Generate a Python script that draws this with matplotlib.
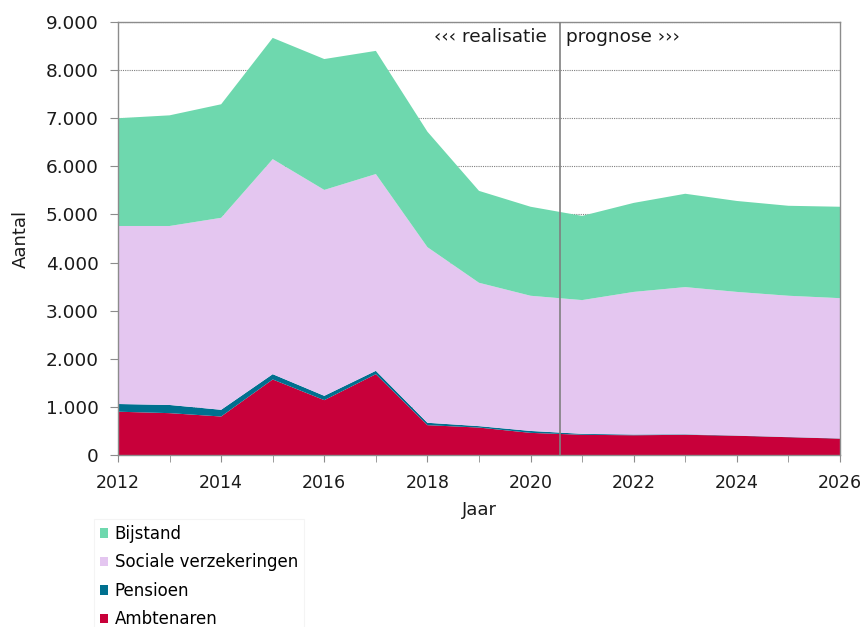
import matplotlib
matplotlib.use("Agg")
import matplotlib.pyplot as plt
from matplotlib.patches import Patch
from matplotlib.ticker import FuncFormatter, MultipleLocator

years = list(range(2012, 2027))
ambtenaren = [900, 870, 800, 1570, 1140, 1680, 620, 570, 460, 420, 410, 420, 400, 370, 340]
pensioen = [160, 170, 140, 110, 90, 70, 50, 30, 40, 20, 15, 10, 5, 5, 5]
sociale_verzekeringen = [3700, 3720, 3990, 4470, 4280, 4090, 3650, 2980, 2810, 2780, 2965, 3060, 2985, 2935, 2915]
bijstand = [2240, 2300, 2360, 2520, 2720, 2560, 2400, 1910, 1850, 1750, 1850, 1940, 1890, 1870, 1900]

series_names = ["Ambtenaren", "Pensioen", "Sociale verzekeringen", "Bijstand"]
colors = ["#C8003A", "#00708F", "#E4C6F0", "#6ED8AE"]
split_year = 2020.57

plt.rcParams["font.family"] = ["DejaVu Sans"]
plt.rcParams["font.size"] = 12

fig = plt.figure(figsize=(8.67, 6.27), dpi=100)
ax = fig.add_axes([118 / 867, 1 - 455 / 627, (840 - 118) / 867, (455 - 22) / 627])

ax.stackplot(years, ambtenaren, pensioen, sociale_verzekeringen, bijstand,
             colors=colors, linewidth=0, zorder=2)

ax.set_xlim(2012, 2026)
ax.set_ylim(0, 9000)
ax.xaxis.set_major_locator(MultipleLocator(2))
ax.xaxis.set_minor_locator(MultipleLocator(1))
ax.yaxis.set_major_locator(MultipleLocator(1000))
ax.yaxis.set_major_formatter(FuncFormatter(lambda v, p: f"{int(v):,}".replace(",", ".")))

ax.grid(axis="y", linestyle=(0, (1, 1)), color="#808080", linewidth=0.8, zorder=1)
ax.set_axisbelow(True)
for s in ax.spines.values():
    s.set_color("#8c8c8c")
    s.set_linewidth(1.0)
ax.tick_params(axis="both", which="both", direction="out", color="#8c8c8c", labelcolor="#1a1a1a")
ax.tick_params(axis="x", which="both", length=5, labelsize=12.5, pad=9)
ax.tick_params(axis="y", which="major", length=6, labelsize=13.3, pad=8)

ax.axvline(split_year, color="#808080", linewidth=1.2, zorder=3)
ax.text(split_year - 0.26, 8870, "‹‹‹ realisatie", ha="right", va="top", fontsize=13.3, color="#1a1a1a", zorder=4)
ax.text(split_year + 0.12, 8870, "prognose ›››", ha="left", va="top", fontsize=13.3, color="#1a1a1a", zorder=4)

ax.set_xlabel("Jaar", fontsize=13, color="#1a1a1a", labelpad=6)
ax.set_ylabel("Aantal", fontsize=13, color="#1a1a1a", labelpad=11)

handles = [Patch(facecolor=c, edgecolor="none") for c in colors][::-1]
labels = series_names[::-1]
leg = fig.legend(handles, labels, loc="upper left", bbox_to_anchor=(94 / 867, 1 - 519 / 627),
                 frameon=True, fancybox=False, handlelength=0.5, handleheight=0.5,
                 handletextpad=0.4, labelspacing=0.63, borderpad=0.35, fontsize=12, borderaxespad=0)
leg.get_frame().set_edgecolor("#f2f2f2")
leg.get_frame().set_linewidth(0.8)

fig.savefig("out.png", dpi=100)
